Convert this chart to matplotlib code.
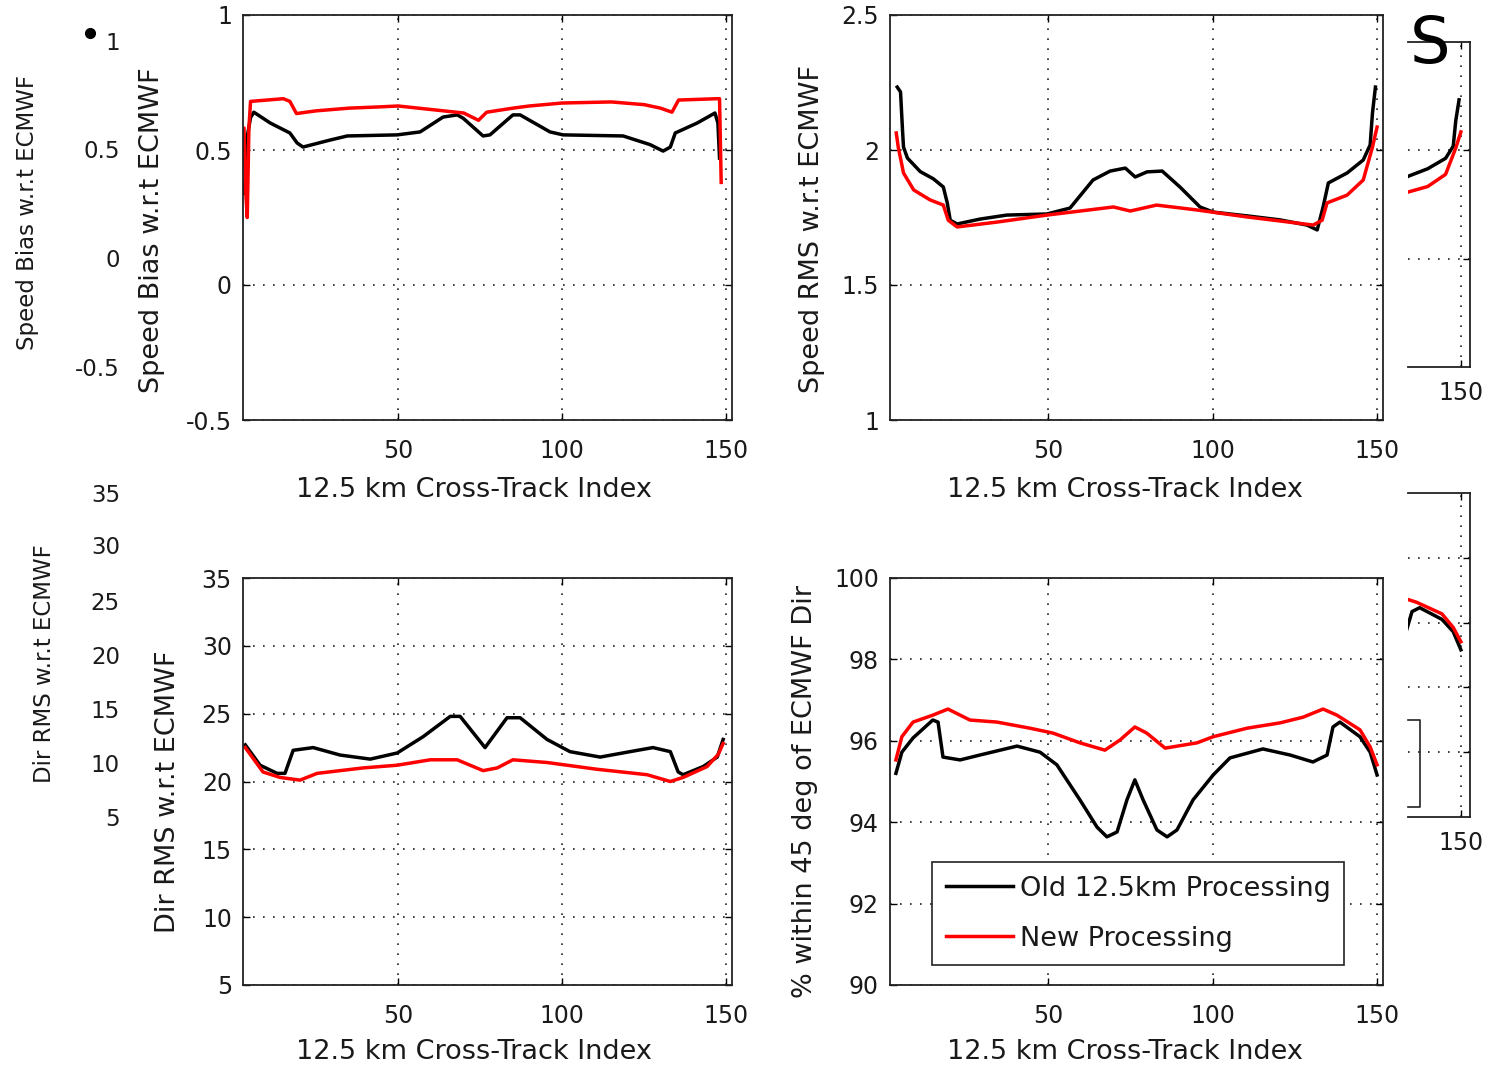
import matplotlib
matplotlib.use("Agg")
import matplotlib.pyplot as plt
from matplotlib.lines import Line2D

W, H = 1499, 1067
plt.rcParams['font.family'] = ['DejaVu Sans']

# ---- data (cross-track index, value) ----
bias_old_x = [3, 3.5, 4, 5, 6, 11, 17, 19.2, 21, 29.3, 34.5, 49.7, 56.7, 63.7, 68, 69.8, 75.9, 78, 85, 87.2,
              96.3, 100.3, 118.6, 126.8, 130.8, 133, 134.5, 141.2, 146.6, 147.5, 148]
bias_old_y = [0.34, 0.40, 0.55, 0.62, 0.64, 0.60, 0.563, 0.526, 0.511, 0.537, 0.552, 0.556, 0.567, 0.622, 0.63,
              0.618, 0.552, 0.556, 0.63, 0.63, 0.567, 0.556, 0.552, 0.52, 0.496, 0.511, 0.563, 0.60, 0.637, 0.60, 0.47]
bias_new_x = [3, 3.5, 4, 4.5, 5, 10, 15, 17, 19, 25, 35, 45, 50, 60, 70, 74.5, 77, 85, 90, 100, 115, 125, 130,
              133.5, 135.5, 147.3, 148, 148.5]
bias_new_y = [0.58, 0.35, 0.25, 0.58, 0.68, 0.685, 0.69, 0.68, 0.635, 0.645, 0.655, 0.66, 0.663, 0.65, 0.637,
              0.61, 0.64, 0.655, 0.663, 0.674, 0.678, 0.668, 0.655, 0.64, 0.685, 0.69, 0.69, 0.38]

rms_old_x = [4.2, 5.2, 5.8, 6.1, 7.3, 11.2, 15.2, 18.2, 19.4, 20.3, 22.4, 29.3, 37.5, 49.7, 56.7, 63.7, 68.9,
             73.5, 76.5, 80.1, 84.7, 90.1, 96.2, 100.2, 110.5, 120.6, 128.7, 131.8, 133.6, 135.2, 140.9, 145.8,
             147.9, 148.6, 149.5]
rms_old_y = [2.233, 2.215, 2.074, 2.011, 1.97, 1.92, 1.893, 1.863, 1.804, 1.74, 1.726, 1.744, 1.759, 1.763,
             1.785, 1.889, 1.922, 1.933, 1.90, 1.919, 1.922, 1.863, 1.789, 1.77, 1.756, 1.741, 1.722, 1.704,
             1.789, 1.878, 1.915, 1.963, 2.019, 2.137, 2.233]
rms_new_x = [3.9, 4.5, 6.1, 9.2, 14.2, 18.2, 19.7, 22.4, 34.5, 49.7, 69.9, 75, 83, 95.2, 110.5, 130.6, 133.3,
             134.8, 140.9, 145.8, 148.6, 150]
rms_new_y = [2.063, 2.011, 1.915, 1.852, 1.815, 1.796, 1.74, 1.715, 1.733, 1.759, 1.789, 1.774, 1.796, 1.778,
             1.752, 1.722, 1.74, 1.804, 1.833, 1.889, 2.011, 2.085]

dir_old_x = [3.4, 7.9, 13.1, 15.5, 18, 24.1, 32.3, 41.5, 49.7, 57.6, 65.9, 68.9, 76.5, 83.2, 87.2, 95.4, 102.4,
             111.6, 120.7, 127.7, 133, 135.4, 136.9, 143, 147.3, 149.1]
dir_old_y = [22.7, 21.2, 20.6, 20.6, 22.3, 22.5, 21.95, 21.65, 22.1, 23.3, 24.8, 24.8, 22.5, 24.7, 24.7, 23.1,
             22.2, 21.8, 22.2, 22.5, 22.2, 20.7, 20.5, 21.1, 21.8, 23.1]
dir_new_x = [3.4, 8.8, 14, 20.1, 25.3, 39.3, 49.7, 59.8, 68, 75.9, 80.2, 85, 95.4, 110.7, 125.9, 133, 136.9,
             144.2, 147.6, 149.1]
dir_new_y = [22.5, 20.7, 20.3, 20.1, 20.6, 21.0, 21.2, 21.6, 21.6, 20.8, 21.0, 21.6, 21.4, 20.9, 20.5, 20.0,
             20.3, 21.1, 22.0, 22.8]

pct_old_x = [3.8, 5.6, 9, 15, 16.6, 18.1, 23.3, 29.3, 40.6, 47.6, 52.7, 59.7, 64.9, 67.9, 71, 74, 76.4, 78.9,
             83.1, 86.2, 89.2, 94.1, 100.2, 105.3, 115.3, 123.6, 130.5, 134.8, 136.6, 138.7, 144.8, 147.9, 150]
pct_old_y = [95.2, 95.72, 96.07, 96.51, 96.46, 95.6, 95.53, 95.65, 95.87, 95.72, 95.41, 94.55, 93.88, 93.64,
             93.76, 94.55, 95.04, 94.55, 93.81, 93.64, 93.81, 94.55, 95.16, 95.58, 95.8, 95.65, 95.48, 95.65,
             96.34, 96.46, 96.1, 95.72, 95.16]
pct_new_x = [3.8, 5.6, 9, 15, 19.6, 26.3, 34.5, 44.5, 51.5, 59.7, 67.3, 71.9, 76.4, 80, 85.6, 95.3, 100.2,
             110.5, 120.5, 127.5, 133.6, 137.8, 144.8, 147.9, 150]
pct_new_y = [95.53, 96.1, 96.46, 96.63, 96.78, 96.51, 96.46, 96.31, 96.19, 95.95, 95.77, 96.02, 96.34, 96.19,
             95.82, 95.95, 96.1, 96.31, 96.44, 96.58, 96.78, 96.63, 96.27, 95.85, 95.41]

x_ticks = [50, 100, 150]
legend_labels = ['Old 12.5km Processing', 'New Processing']
x_label = '12.5 km Cross-Track Index'

TXT = '#1a1a1a'
FS_TICK = 17
FS_LAB = 19.5


def fx(px):
    return px / W


def fy(py):
    return 1 - py / H


def make_axes(l, t, r, b):
    return fig.add_axes([fx(l), fy(b), (r - l) / W, (b - t) / H])


def style(ax, xlim, ylim, yticks, ylabels, xticks=x_ticks, xpad=14):
    ax.set_xticks(xticks)
    ax.set_yticks(yticks)
    ax.set_yticklabels(ylabels)
    ax.set_xlim(xlim)
    ax.set_ylim(ylim)
    ax.grid(True, color='#222222', linestyle=(0, (1, 5)), linewidth=1.2)
    ax.tick_params(direction='in', length=5, width=1, top=True, right=True,
                   labelsize=FS_TICK, labelcolor=TXT, pad=8)
    ax.tick_params(axis='x', pad=xpad)
    for s in ax.spines.values():
        s.set_linewidth(1.3)
        s.set_color('#222222')


def draw(ax, ox, oy, nx, ny):
    l1, = ax.plot(ox, oy, color='black', lw=2.5)
    l2, = ax.plot(nx, ny, color='red', lw=2.5)
    return l1, l2


fig = plt.figure(figsize=(W / 100, H / 100), dpi=100)

# main panels
ax1 = make_axes(243, 15, 732, 420)
draw(ax1, bias_old_x, bias_old_y, bias_new_x, bias_new_y)
style(ax1, (2.7, 151.8), (-0.5, 1), [-0.5, 0, 0.5, 1], ['-0.5', '0', '0.5', '1'])

ax2 = make_axes(890, 15, 1383, 420)
draw(ax2, rms_old_x, rms_old_y, rms_new_x, rms_new_y)
style(ax2, (2.0, 151.8), (1, 2.5), [1, 1.5, 2, 2.5], ['1', '1.5', '2', '2.5'])

ax3 = make_axes(243, 578, 732, 985)
draw(ax3, dir_old_x, dir_old_y, dir_new_x, dir_new_y)
style(ax3, (2.7, 151.8), (5, 35), list(range(5, 40, 5)), [str(v) for v in range(5, 40, 5)])

ax4 = make_axes(890, 578, 1383, 985)
h_old, h_new = draw(ax4, pct_old_x, pct_old_y, pct_new_x, pct_new_y)
style(ax4, (2.0, 151.8), (90, 100), list(range(90, 101, 2)), [str(v) for v in range(90, 101, 2)])
leg = ax4.legend([h_old, h_new], legend_labels, loc='upper left',
                 bbox_to_anchor=((932 - 890) / 493, (985 - 862) / 407), borderaxespad=0,
                 fontsize=FS_LAB, frameon=True, fancybox=False, framealpha=1,
                 handlelength=2.5, handletextpad=0.25, labelspacing=0.9, borderpad=0.5)
leg.get_frame().set_edgecolor('#222222')
leg.get_frame().set_linewidth(1.2)
for t in leg.get_texts():
    t.set_color(TXT)

# axis labels
for cx, cy, s in [(152, 230, 'Speed Bias w.r.t ECMWF'), (812, 229, 'Speed RMS w.r.t ECMWF'),
                  (168, 792, 'Dir RMS w.r.t ECMWF'), (805, 791, '% within 45 deg of ECMWF Dir')]:
    fig.text(fx(cx), fy(cy), s, rotation=90, ha='center', va='center', fontsize=FS_LAB, color=TXT)
for cx, cy in [(474, 490), (1125, 490), (474, 1052), (1125, 1052)]:
    fig.text(fx(cx), fy(cy), x_label, ha='center', va='center', fontsize=FS_LAB, color=TXT)

# leftover ghost labels on the left
GF = 16.5
fig.text(fx(28), fy(213), 'Speed Bias w.r.t ECMWF', rotation=90, ha='center', va='center', fontsize=GF, color=TXT)
for py, s in [(44, '1'), (152, '0.5'), (260, '0'), (369, '-0.5')]:
    fig.text(fx(120), fy(py), s, ha='right', va='center', fontsize=GF, color=TXT)
fig.text(fx(45), fy(664), 'Dir RMS w.r.t ECMWF', rotation=90, ha='center', va='center', fontsize=GF, color=TXT)
for py, v in zip([495, 548, 603, 657, 711, 765, 819], [35, 30, 25, 20, 15, 10, 5]):
    fig.text(fx(120), fy(py), str(v), ha='right', va='center', fontsize=GF, color=TXT)
fig.add_artist(Line2D([fx(90)], [fy(33)], marker='o', markersize=7, color='black',
                      transform=fig.transFigure))

# leftover ghost panels on the right
g1 = make_axes(1408, 42, 1470, 367)
draw(g1, rms_old_x, rms_old_y, rms_new_x, rms_new_y)
style(g1, (135.5, 152.5), (1, 2.5), [1.5, 2], ['', ''], xticks=[150], xpad=10)
g1.spines['left'].set_visible(False)
g1.tick_params(left=False)

g2 = make_axes(1408, 493, 1470, 817)
draw(g2, pct_old_x, pct_old_y, pct_new_x, pct_new_y)
style(g2, (135.5, 152.5), (90, 100), [92, 94, 96, 98], ['', '', '', ''], xticks=[150], xpad=10)
g2.spines['left'].set_visible(False)
g2.tick_params(left=False)
fig.add_artist(Line2D([fx(1408), fx(1420), fx(1420), fx(1408)], [fy(720), fy(720), fy(807), fy(807)],
                      color='#222222', lw=1.2, transform=fig.transFigure))

fig.text(fx(1430), fy(45), 'S', ha='center', va='center', fontsize=46, color='black')

fig.savefig('out.png', dpi=100)
